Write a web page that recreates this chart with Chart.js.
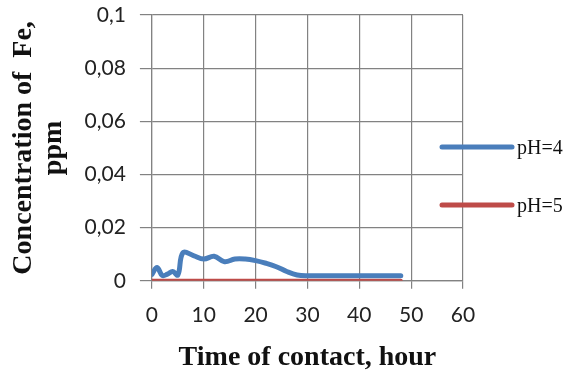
<!DOCTYPE html>
<html>
<head>
<meta charset="utf-8">
<script src="https://cdn.jsdelivr.net/npm/chart.js@4"></script>
<style>
  body { margin: 0; background: #fff; }
  canvas { display: block; }
</style>
</head>
<body>
<canvas id="myChart" width="569" height="374"></canvas>
<script>
// Sampling times (hours) and Fe concentration (ppm) for each pH
const hours = [0, 1, 2, 3, 4, 5, 6, 8, 10, 12, 14, 16, 18, 20, 22, 24, 26, 28, 30, 36, 42, 48];
const feAtPH4 = [0.0024, 0.005, 0.002, 0.0025, 0.0035, 0.0022, 0.0106, 0.0095, 0.0082, 0.0092, 0.0072, 0.0082, 0.0082, 0.0076, 0.0066, 0.0053, 0.0035, 0.0022, 0.0019, 0.0019, 0.0019, 0.0019];
const feAtPH5 = [0, 0, 0, 0, 0, 0, 0, 0, 0, 0, 0, 0, 0, 0, 0, 0, 0, 0, 0, 0, 0, 0];
const seriesNames = ['pH=4', 'pH=5'];
const xTicks = [0, 10, 20, 30, 40, 50, 60];
const yTicks = [0, 0.02, 0.04, 0.06, 0.08, 0.1];

const toPoints = (vals) => hours.map((h, i) => ({ x: h, y: vals[i] }));

// White page behind the chart
const whiteBg = {
    id: 'whiteBg',
    beforeDraw(chart) {
        const c = chart.ctx;
        c.save();
        c.fillStyle = '#fff';
        c.fillRect(0, 0, chart.width, chart.height);
        c.restore();
    }
};

// Legend drawn to the right of the plot, one line sample per series
const sideLegend = {
    id: 'sideLegend',
    afterDraw(chart) {
        const c = chart.ctx;
        const rows = [147, 205];
        c.save();
        chart.data.datasets.forEach((ds, i) => {
            c.strokeStyle = ds.borderColor;
            c.lineWidth = 5;
            c.lineCap = 'round';
            c.beginPath();
            c.moveTo(442, rows[i]);
            c.lineTo(512, rows[i]);
            c.stroke();
            c.fillStyle = '#111';
            c.font = '20px "Liberation Serif"';
            c.textBaseline = 'middle';
            c.fillText(ds.label, 517, rows[i] + 2);
        });
        c.restore();
    }
};

const ctx = document.getElementById('myChart').getContext('2d');
const myChart = new Chart(ctx, {
    type: 'line',
    data: {
        datasets: [{
            label: seriesNames[0],
            data: toPoints(feAtPH4),
            borderColor: 'rgb(74, 126, 187)',
            borderWidth: 5,
            tension: 0.4,
            pointRadius: 0,
            borderCapStyle: 'round'
        }, {
            label: seriesNames[1],
            data: toPoints(feAtPH5),
            borderColor: 'rgb(190, 75, 72)',
            borderWidth: 4,
            tension: 0,
            pointRadius: 0,
            borderCapStyle: 'round'
        }]
    },
    options: {
        responsive: false,
        animation: false,
        devicePixelRatio: 1,
        layout: { padding: { top: 15, right: 106, bottom: 2, left: 8 } },
        plugins: {
            legend: { display: false },
            tooltip: { enabled: false }
        },
        scales: {
            x: {
                type: 'linear',
                min: 0,
                max: 60,
                afterBuildTicks: (axis) => { axis.ticks = xTicks.map(v => ({ value: v })); },
                afterFit: (axis) => { axis.paddingTop = 0; },
                grid: { color: 'rgb(130, 130, 130)', lineWidth: 1.2, tickLength: 8 },
                border: { color: 'rgb(130, 130, 130)', width: 1.2 },
                ticks: {
                    color: '#222',
                    padding: 14,
                    font: { family: 'Lato', size: 21 },
                    maxRotation: 0
                },
                title: {
                    display: true,
                    text: 'Time of contact, hour',
                    color: '#111',
                    padding: { top: 2, bottom: 0 },
                    font: { family: '"Liberation Serif"', size: 28, weight: 'bold', lineHeight: 1 }
                }
            },
            y: {
                min: 0,
                max: 0.1,
                afterBuildTicks: (axis) => { axis.ticks = yTicks.map(v => ({ value: v })); },
                // keep the top gridline close to the canvas edge
                afterFit: (axis) => { axis.paddingTop = 0; },
                grid: { color: 'rgb(130, 130, 130)', lineWidth: 1.2, tickLength: 12 },
                border: { color: 'rgb(130, 130, 130)', width: 1.2 },
                ticks: {
                    color: '#222',
                    padding: 14,
                    font: { family: 'Lato', size: 21 },
                    callback: (v) => String(v).replace('.', ',')
                },
                title: {
                    display: true,
                    text: ['Concentration of  Fe,', 'ppm'],
                    color: '#111',
                    padding: { top: 0, bottom: 1 },
                    font: { family: '"Liberation Serif"', size: 28, weight: 'bold', lineHeight: 1.1 }
                }
            }
        }
    },
    plugins: [whiteBg, sideLegend]
});
</script>
</body>
</html>
